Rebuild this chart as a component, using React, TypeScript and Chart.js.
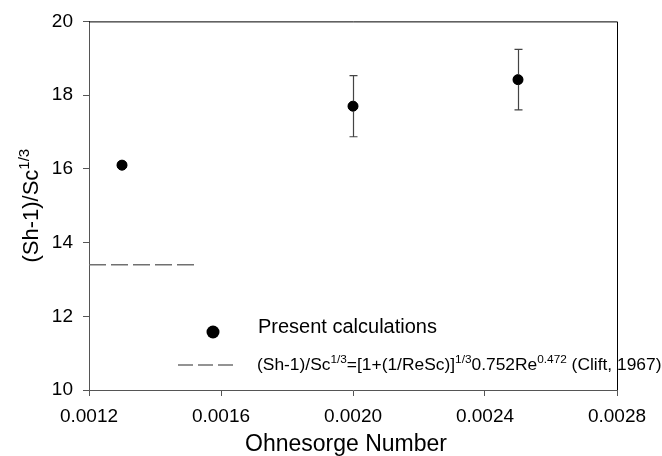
import React, { useEffect, useRef } from "react";
import { Chart, registerables } from "chart.js";
Chart.register(...registerables);

const FONT = '"Liberation Sans", Arial, Helvetica, sans-serif';

// Data
const ohnesorge = [0.0013, 0.002, 0.0025];
const shSc = [16.1, 17.7, 18.42];
const errPlus = [0, 0.83, 0.82];
const errMinus = [0, 0.83, 0.82];
const cliftX = [0.0012, 0.00152];
const cliftY = [13.4, 13.4];
const xTicks = [0.0012, 0.0016, 0.002, 0.0024, 0.0028];
const yTicks = [10, 12, 14, 16, 18, 20];

type Part = [string, boolean];

function drawParts(ctx: CanvasRenderingContext2D, parts: Part[], x: number, y: number, size: number, supSize: number, measureOnly = false) {
  let cx = x;
  for (const [t, sup] of parts) {
    ctx.font = `${sup ? supSize : size}px ${FONT}`;
    const w = ctx.measureText(t).width;
    if (!measureOnly) ctx.fillText(t, cx, sup ? y - size * 0.42 : y);
    cx += w;
  }
  return cx - x;
}

const customPlugin = {
  id: "custom",
  afterDatasetsDraw(chart: any) {
    const ctx: CanvasRenderingContext2D = chart.ctx;
    const xs = chart.scales.x;
    const ys = chart.scales.y;
    const ca = chart.chartArea;
    ctx.save();
    // frame top & right
    ctx.strokeStyle = "#000";
    ctx.lineWidth = 1;
    ctx.beginPath();
    ctx.moveTo(ca.left, ca.top + 0.5);
    ctx.lineTo(ca.right + 0.5, ca.top + 0.5);
    ctx.lineTo(ca.right + 0.5, ca.bottom);
    ctx.stroke();
    // error bars
    ctx.strokeStyle = "#444";
    ctx.lineWidth = 1.2;
    for (let i = 0; i < ohnesorge.length; i++) {
      if (!errPlus[i] && !errMinus[i]) continue;
      const px = Math.round(xs.getPixelForValue(ohnesorge[i])) + 0.5;
      const top = ys.getPixelForValue(shSc[i] + errPlus[i]);
      const bot = ys.getPixelForValue(shSc[i] - errMinus[i]);
      ctx.beginPath();
      ctx.moveTo(px, top);
      ctx.lineTo(px, bot);
      ctx.moveTo(px - 4, top);
      ctx.lineTo(px + 4, top);
      ctx.moveTo(px - 4, bot);
      ctx.lineTo(px + 4, bot);
      ctx.stroke();
    }
    // redraw points on top
    ctx.fillStyle = "#000";
    for (let i = 0; i < ohnesorge.length; i++) {
      ctx.beginPath();
      ctx.arc(xs.getPixelForValue(ohnesorge[i]), ys.getPixelForValue(shSc[i]), 5, 0, Math.PI * 2);
      ctx.fill();
    }
    // legend
    ctx.beginPath();
    ctx.arc(213, 332, 6.5, 0, Math.PI * 2);
    ctx.fill();
    ctx.fillStyle = "#000";
    ctx.textBaseline = "alphabetic";
    ctx.textAlign = "left";
    ctx.font = `20px ${FONT}`;
    ctx.fillText("Present calculations", 258, 333);
    ctx.strokeStyle = "#707070";
    ctx.lineWidth = 1.5;
    ctx.setLineDash([15, 5]);
    ctx.beginPath();
    ctx.moveTo(178, 365);
    ctx.lineTo(233, 365);
    ctx.stroke();
    ctx.setLineDash([]);
    const formula: Part[] = [
      ["(Sh-1)/Sc", false],
      ["1/3", true],
      ["=[1+(1/ReSc)]", false],
      ["1/3", true],
      ["0.752Re", false],
      ["0.472", true],
      [" (Clift, 1967)", false],
    ];
    drawParts(ctx, formula, 257, 370, 17.4, 11.8);
    // x title
    ctx.font = `23px ${FONT}`;
    ctx.textAlign = "center";
    ctx.fillText("Ohnesorge Number", 346, 451);
    // y title
    ctx.textAlign = "left";
    const yParts: Part[] = [["(Sh-1)/Sc", false], ["1/3", true]];
    const w = drawParts(ctx, yParts, 0, 0, 22, 15, true);
    ctx.translate(38, (ca.top + ca.bottom) / 2);
    ctx.rotate(-Math.PI / 2);
    drawParts(ctx, yParts, -w / 2, 0, 22, 15);
    ctx.restore();
  },
};

export default function App() {
  const ref = useRef<HTMLCanvasElement>(null);
  useEffect(() => {
    const chart = new Chart(ref.current!, {
      type: "scatter",
      data: {
        datasets: [
          {
            label: "Present calculations",
            data: ohnesorge.map((x, i) => ({ x, y: shSc[i] })),
            backgroundColor: "#000",
            borderColor: "#000",
            pointRadius: 5,
          },
          {
            label: "Clift",
            type: "line",
            data: cliftX.map((x, i) => ({ x, y: cliftY[i] })),
            borderColor: "#707070",
            borderWidth: 1.5,
            borderDash: [17, 5],
            pointRadius: 0,
            showLine: true,
          } as any,
        ],
      },
      options: {
        animation: false,
        responsive: false,
        maintainAspectRatio: false,
        layout: { padding: { top: 19, right: 45, left: 0, bottom: 0 } },
        plugins: { legend: { display: false }, tooltip: { enabled: false } },
        scales: {
          x: {
            type: "linear",
            min: 0.0012,
            max: 0.0028,
            afterBuildTicks: (s: any) => {
              s.ticks = xTicks.map((v) => ({ value: v }));
            },
            afterFit: (s: any) => {
              s.height = 66;
            },
            ticks: {
              color: "#000",
              font: { family: FONT, size: 19 },
              padding: 9,
              maxRotation: 0,
              callback: (v: any) => Number(v).toFixed(4),
            },
            grid: { drawOnChartArea: false, color: "#555", tickLength: 6 },
            border: { color: "#555", width: 1 },
          },
          y: {
            type: "linear",
            min: 10,
            max: 20,
            afterBuildTicks: (s: any) => {
              s.ticks = yTicks.map((v) => ({ value: v }));
            },
            afterFit: (s: any) => {
              s.width = 89;
            },
            ticks: {
              color: "#000",
              font: { family: FONT, size: 19 },
              padding: 10,
            },
            grid: { drawOnChartArea: false, color: "#555", tickLength: 6 },
            border: { color: "#555", width: 1 },
          },
        },
      },
      plugins: [customPlugin],
    });
    return () => chart.destroy();
  }, []);
  return (
    <div style={{ position: "fixed", left: 0, top: 0, width: 662, height: 456, background: "#fff" }}>
      <canvas ref={ref} width={662} height={456} style={{ width: 662, height: 456 }} />
    </div>
  );
}
